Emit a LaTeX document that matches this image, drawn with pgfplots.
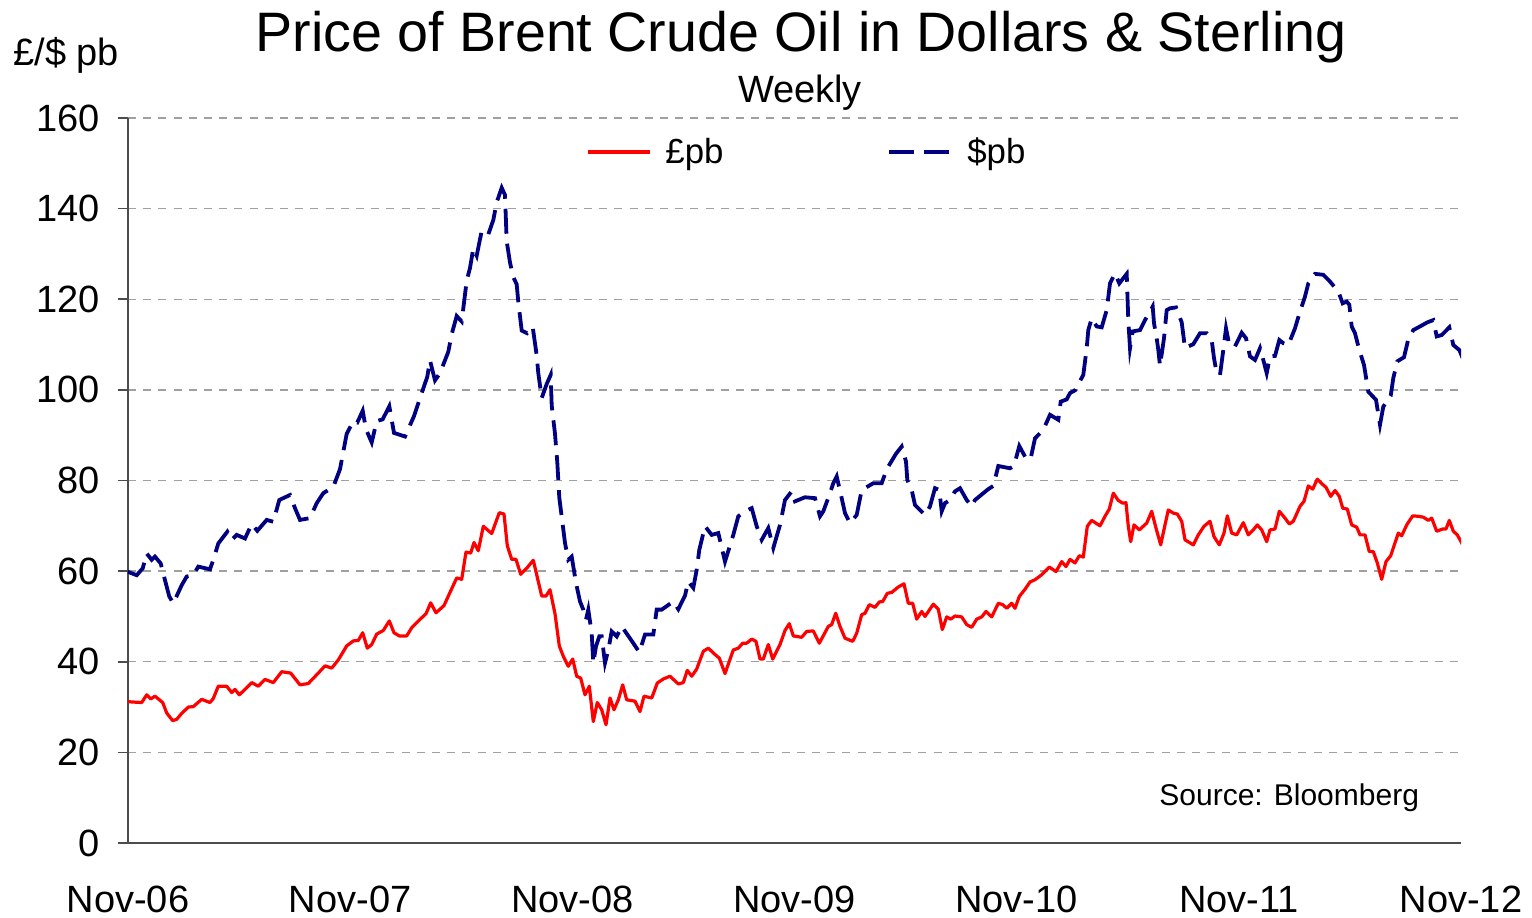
\documentclass[border=0pt]{standalone}
\usepackage{fontspec}
\setmainfont{Liberation Sans}
\usepackage{pgfplots}
\usepackage{pgfplotstable}
\pgfplotsset{compat=1.18}
\definecolor{oilred}{RGB}{255,0,0}
\definecolor{oilnavy}{RGB}{0,0,128}
\definecolor{gridgray}{RGB}{160,160,160}
% x = horizontal position (pixels), y = price
\pgfplotstableread{
pos val
127.3 31.2
134 31.1
141.7 31.0
146.7 32.7
150.7 31.8
155 32.4
162.7 31.0
166.7 28.7
172.7 27.0
176.7 27.3
181.7 28.6
188.3 30.0
193.3 30.1
201.7 31.7
210 31.0
213.3 31.9
218.3 34.6
226.7 34.6
231.7 33.2
235 33.9
239.3 32.7
245 33.9
251.7 35.4
258.3 34.6
265 36.1
273.3 35.4
281.7 37.8
290.7 37.5
300 34.9
308.3 35.2
318.3 37.5
325 39.1
331.7 38.6
338.3 40.4
346.7 43.5
353.3 44.6
358.3 44.7
362.7 46.4
367.3 43.0
371.7 43.8
376.7 46.1
383.3 46.9
389.3 49.0
394 46.4
399.3 45.7
406.7 45.7
411.7 47.5
418.3 49.0
426 50.6
430.7 53.0
436 50.8
444 52.4
450 55.3
456.7 58.5
461.7 58.2
466 64.2
470.7 64.0
474 66.3
478.3 64.5
483.3 69.9
491.7 68.3
499.3 72.9
504 72.6
507.3 65.6
511.7 62.6
516 62.6
520.7 59.3
527.3 60.8
533.3 62.4
541.7 54.5
546 54.5
550 55.9
555 50.6
559.3 43.5
563.3 41.2
568.3 39.0
572.7 40.6
576.7 36.8
580.7 36.4
585 32.7
589.3 34.6
593.3 26.8
597.3 31.0
601.7 29.4
606 26.1
610 32.0
614 29.4
618.3 31.6
622.7 34.9
626.7 31.6
635 31.3
640 29.0
644 32.4
651.7 32.0
657.3 35.3
663.3 36.2
670 36.8
678.3 35.1
683.3 35.4
687.3 38.1
691.7 36.8
696.7 38.4
703.3 42.3
708.3 43.0
714 41.8
719.3 40.8
725 37.4
733.3 42.6
738.3 43.0
742.7 44.1
746.7 44.1
751.7 45.0
756 44.5
760 40.6
763.3 40.6
768.3 43.8
772.7 40.6
780 43.8
785 46.9
789.3 48.4
793.3 45.7
801.7 45.4
806.7 46.7
813.3 46.8
819.3 44.1
828.3 47.8
831.7 48.2
835.7 50.7
840 47.8
845 45.2
852.7 44.5
856.7 46.3
861.7 50.4
865 50.7
869.3 52.6
875 52.0
879.3 53.2
882.7 53.3
887.3 55.1
891.7 55.3
898.3 56.5
904 57.2
908.3 52.9
912.7 52.9
916.7 49.4
921.7 51.1
925 50.0
933.3 52.7
938.3 51.6
942.3 47.1
946.7 49.9
950.7 49.4
955 50.1
961.7 49.9
966.7 48.2
971.7 47.6
976.7 49.4
981.7 49.9
986 51.1
991.7 49.9
998.3 52.9
1002.7 52.6
1006.7 51.8
1011.7 52.9
1015 51.8
1019.3 54.4
1025 56.0
1030 57.6
1035 58.1
1041.7 59.2
1049.3 60.9
1056 59.9
1061.7 62.1
1066 61.0
1070 62.6
1075 61.8
1079.3 63.4
1083.3 63.1
1087.3 69.9
1091.7 71.2
1100 70.0
1105 72.1
1109.3 73.7
1113.3 77.2
1118.3 75.6
1122.7 75.0
1126 75.1
1128.3 69.9
1130.7 66.5
1134 70.2
1139.3 69.1
1146.7 70.6
1151.7 73.2
1156 69.5
1160.7 65.8
1165 70.2
1168.3 73.5
1173.3 72.8
1177.3 72.6
1181.7 71.0
1185 66.9
1193.3 65.8
1198.3 68.0
1204 69.9
1210 71.0
1214 67.6
1219.3 65.8
1224 68.4
1227.3 72.2
1231.7 68.4
1236.7 68.0
1243.3 70.7
1248.3 68.0
1253.3 69.1
1257.3 70.2
1261.7 69.1
1266.7 66.5
1270 69.1
1275 69.3
1279.3 73.2
1285 71.7
1289.3 70.4
1293.3 71.0
1300 74.3
1304 75.4
1308.3 78.8
1312.7 78.1
1317.3 80.3
1321.7 79.3
1326 78.5
1330.7 76.5
1335 77.8
1339.3 76.5
1342.7 73.9
1347.3 73.7
1351.7 70.2
1356.7 69.7
1360 68.0
1365 68.0
1369.3 64.3
1373.3 64.3
1377.3 61.8
1381.7 58.2
1386 62.1
1390.7 63.4
1398.3 68.4
1401.7 67.8
1406.7 70.2
1412.7 72.2
1418.3 72.1
1423.3 71.9
1428.3 71.2
1431.7 71.7
1436.7 68.8
1442.7 69.3
1446 69.3
1449.3 71.2
1453.3 68.8
1457.3 68.0
1462.7 65.8
}\sterling
\pgfplotstableread{
pos val
127.3 59.9
136.7 59.1
142.7 60.6
146.7 63.9
151.7 62.5
155 63.2
160.7 61.7
165 58.0
169.3 54.4
173.3 52.9
181.7 56.9
186.7 58.8
193.3 59.1
198.3 61.0
210 60.4
213.3 62.5
218.3 66.1
227.3 68.7
231.7 66.9
236.7 68.0
245 67.2
251.7 70.4
257.3 68.9
266.7 71.3
273.3 70.9
279.3 75.7
290 76.8
295 73.9
300 71.3
310 71.7
316.7 75.0
323.3 77.2
333.3 78.6
340 82.5
346.7 90.3
353.3 93.1
357.3 92.8
362.7 95.4
366 91.3
371.7 88.4
376.7 93.1
382.7 93.5
389.3 96.4
394 90.5
405 89.7
414 94.2
420 98.2
427.3 102.9
430 106.5
435 102.1
440 103.7
448.3 108.4
451.7 112.3
456.7 116.3
461.7 115.1
466.7 124.1
470 126.9
473.3 131.2
476.7 129.6
481.7 135.1
488.3 134.3
493.3 137.5
496.7 141.4
501.7 144.6
505 143.0
506.7 132.8
510 128.1
513.3 124.9
516.7 123.3
518.3 119.4
521.7 113.1
527 112.5
532.7 113.9
536.7 107.6
538.3 103.7
541.7 98.2
546.7 101.3
550.7 103.3
551.7 96.6
555 90.3
557.3 84.0
559.3 76.2
562.5 70.6
565 66.2
568.3 62.5
571.7 63.2
576 57.4
580 53.3
583.3 51.5
586 49.3
588.3 51.5
591.7 46.3
593.3 39.7
596 43.4
599.3 45.6
601.7 45.6
605 39.7
608.3 42.6
611.7 46.7
616.7 45.6
621.7 47.8
628.3 45.7
633.3 44.1
639.3 42.1
645 46.0
653.3 46.0
656.7 51.5
661.7 51.5
673.3 53.3
678.3 51.6
685 54.6
688.3 57.7
693.3 56.3
696.7 60.3
699.3 64.7
705 69.9
711.7 68.0
718.3 68.4
725 62.1
733.3 68.0
738.3 72.1
745 73.2
751.7 73.9
756.7 69.9
761.7 66.9
768.3 69.5
773.3 65.1
780 70.2
785 75.7
791.7 77.6
795 75.4
805 76.3
815 76.1
820 72.1
823.3 73.2
830 77.2
833.3 79.4
836.7 80.9
841.7 76.1
845 72.8
850 70.6
856.7 72.4
861.7 77.9
873.3 79.4
881.7 79.4
886.7 82.5
896 85.9
901.7 87.5
906 84.2
907.3 80.1
911.7 77.9
915 74.6
920 73.5
925 72.4
930 74.3
935 78.3
939.3 77.9
941.7 73.2
945 75.0
950 75.7
955 77.6
960 78.3
966.7 75.7
971.7 74.3
975 75.7
988.3 78.1
993.3 78.8
998.3 83.2
1010 82.7
1014 83.2
1019.3 87.6
1026.7 84.6
1030.7 84.9
1035 89.3
1043.3 91.2
1050 94.5
1058.3 93.4
1060.7 97.4
1066.7 97.9
1070 99.3
1075 99.9
1083.3 103.3
1086.7 109.2
1088.3 113.2
1091.7 115.8
1096.7 114.0
1101.7 113.8
1106.7 117.6
1110 123.5
1115 125.7
1119.3 123.5
1126.7 125.6
1128.3 115.4
1130 109.2
1132.7 112.9
1140 113.2
1145 115.4
1150 117.3
1152.7 118.4
1154 114.7
1156.7 111.4
1158.3 108.8
1160 105.3
1164 111.4
1166.7 117.6
1170 118.0
1176 118.2
1181.7 114.9
1185 109.2
1193.3 110.1
1200 112.5
1206.7 112.5
1211.7 111.0
1214 107.0
1216.7 103.7
1220 103.3
1223.3 108.8
1226 113.6
1229.3 109.9
1235 109.6
1241.7 112.6
1246 111.4
1250 107.4
1255 106.6
1260 109.2
1263.3 106.6
1266.7 103.7
1270 107.4
1275 107.5
1279.3 111.0
1283.3 110.3
1288.3 109.9
1295 113.6
1300 117.3
1305 120.6
1308.3 123.5
1315 125.6
1323.3 125.4
1330 123.9
1338.3 121.7
1342.7 119.1
1346.7 119.5
1349.3 118.8
1351.7 114.0
1355 112.5
1359.3 108.8
1364 105.5
1368.3 99.6
1376 97.8
1380 92.3
1383.3 96.3
1390.7 98.7
1393.3 102.6
1397.3 106.3
1404 107.2
1408.3 111.2
1413.3 113.2
1420 114.0
1427.3 114.9
1433.3 115.4
1436.7 111.8
1441.7 112.1
1449.3 113.8
1453.3 109.9
1459.3 108.8
1462.7 107.0
}\dollar
\begin{document}
\begin{tikzpicture}
\useasboundingbox (-64pt,-37pt) rectangle (702pt,421.5pt);
\begin{axis}[
  at={(0,0)}, anchor=south west,
  scale only axis,
  width=666.5pt, height=362.5pt,
  xmin=128, xmax=1461,
  ymin=0, ymax=160,
  axis lines=left,
  axis line style={black!70, line width=0.8pt, -},
  xtick={128,350.17,572.33,794.5,1016.67,1238.83,1461},
  xticklabels={Nov-06,Nov-07,Nov-08,Nov-09,Nov-10,Nov-11,Nov-12},
  ytick={0,20,...,160},
  tick align=outside,
  major tick length=5pt,
  major x tick style={draw=none},
  y tick style={black!70, line width=0.8pt},
  ymajorgrids,
  grid style={gridgray, dash pattern=on 4pt off 3.6pt, line width=0.7pt},
  tick label style={font=\fontsize{19}{22}\selectfont},
  /pgf/number format/assume math mode=true,
  xticklabel style={anchor=north, inner sep=0pt, yshift=-16.5pt},
  yticklabel style={anchor=east, inner sep=0pt, xshift=-9pt},
  legend columns=2,
  legend style={draw=none, fill=none, at={(0.5100,0.953)}, anchor=center,
    font=\fontsize{17.4}{20}\selectfont,
    /tikz/every even column/.append style={column sep=80pt}},
  legend image code/.code={\draw[#1] (0pt,0pt) -- (31pt,0pt); \path (36pt,0pt);},
  clip=true,
]
\addplot[oilred, line width=1.6pt, line join=round] table[x=pos, y=val] {\sterling};
\addlegendentry{£pb}
\addplot[oilnavy, line width=1.9pt, dash pattern=on 12.5pt off 5pt] table[x=pos, y=val] {\dollar};
\addlegendentry{\$pb}
\end{axis}
\node[anchor=base, font=\fontsize{27.8}{30}\selectfont] at (336.5pt,395.5pt) {Price of Brent Crude Oil in Dollars \& Sterling};
\node[anchor=base, font=\fontsize{19}{22}\selectfont] at (336pt,370pt) {Weekly};
\node[anchor=base west, inner sep=0pt, font=\fontsize{19}{22}\selectfont] at (-57.5pt,388.5pt) {£/\$ pb};
\node[anchor=base west, inner sep=0pt, font=\fontsize{15}{18}\selectfont] at (515.5pt,19pt) {Source: Bloomberg};
\end{tikzpicture}
\end{document}
